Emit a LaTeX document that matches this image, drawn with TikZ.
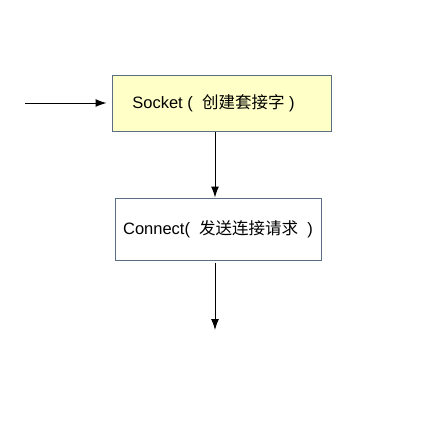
\documentclass[tikz,border=0pt]{standalone}
\usepackage{fontspec}
\setmainfont{Liberation Sans}
\newfontfamily\cjk{Noto Sans CJK SC}
\usetikzlibrary{arrows.meta}
\definecolor{boxline}{HTML}{5A6E84}
\definecolor{boxfill}{HTML}{FFFFC8}
\tikzset{
    stepbox/.style={draw=boxline, line width=1pt, inner sep=0pt, font=\fontsize{16.5}{20}\selectfont},
    flow/.style={line width=1pt, -{Latex[length=11pt,width=8pt]}}
}
\begin{document}
\begin{tikzpicture}[x=1pt,y=-1pt]
    \useasboundingbox (0,0) rectangle (424,424);

    \node[stepbox, fill=boxfill, minimum width=219pt, minimum height=56pt] (socket) at (221.5,103)
        {Socket (\ \ {\cjk 创建套接字} )\hspace*{16pt}};
    \node[stepbox, minimum width=206pt, minimum height=62pt] (connect) at (218,229)
        {Connect(\ \ {\cjk 发送连接请求} \ )};

    \coordinate (start) at (25,103);
    \coordinate (mid) at (215,0);
    \coordinate (finish) at (215,330);

    \draw[flow, shorten >=5pt] (start) -- (socket.west);
    \draw[flow] (socket.south -| mid) -- (connect.north -| mid);
    \draw[flow, shorten <=2pt] (connect.south -| mid) -- (finish);
\end{tikzpicture}
\end{document}
